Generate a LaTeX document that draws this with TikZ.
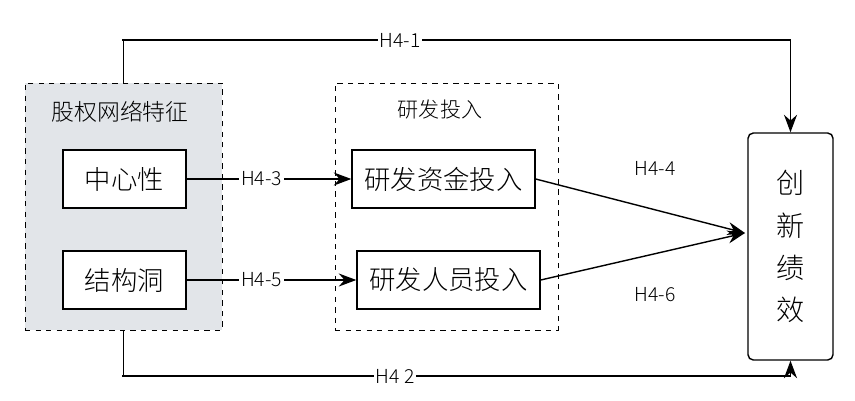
\documentclass[tikz,border=0pt]{standalone}
\usepackage{fontspec}
\setmainfont{Noto Sans CJK SC Light}
\usetikzlibrary{arrows.meta}
\tikzset{
	box/.style={draw, thick, minimum width=2.46cm, minimum height=1.16cm, font=\fontsize{15}{15}\selectfont},
	grp/.style={draw, dashed, minimum width=3.94cm, minimum height=4.94cm},
	lbl/.style={fill=white, inner sep=1pt, font=\fontsize{11}{11}\selectfont},
	arr/.style={-{Stealth[length=3.5mm,width=2.6mm]}, thick}
}
\begin{document}
\begin{tikzpicture}[x=0.02cm,y=-0.02cm]
	\useasboundingbox (0,0) rectangle (855,400);
	% groups
	\node[grp, fill={rgb,255:red,226;green,229;blue,233}] (equity) at (123.5,206.5) {};
	\node[grp, minimum width=4.46cm] (rd) at (446.5,206.5) {};
	\node[font=\fontsize{13}{13}\selectfont] at (120,112) {股权网络特征};
	\node[font=\fontsize{12}{12}\selectfont] at (440,110) {研发投入};
	% boxes
	\node[box, fill=white] (cen) at (124.5,179) {中心性};
	\node[box, fill=white] (hole) at (124.5,280) {结构洞};
	\node[box, minimum width=3.66cm] (fund) at (443.5,179) {研发资金投入};
	\node[box, minimum width=3.66cm] (staff) at (448.5,280) {研发人员投入};
	\node[box, rounded corners=3pt, minimum width=1.7cm, minimum height=4.54cm, align=center, font=\fontsize{16}{24}\selectfont] (perf) at (790.5,246.5) {创\\新\\绩\\效};
	\coordinate (join) at (745,233);
	% connectors
	\draw[arr] (equity.north) |- (122,40) -| (perf.north);
	\draw[arr] (equity.south) |- (122,376) -| (perf.south);
	\node[lbl] at (400,40) {H4-1};
	\node[lbl] at (395,376) {H4 2};
	\draw[arr] (cen) -- (fund) node[lbl, midway, xshift=-0.15cm] {H4-3};
	\draw[arr] (hole) -- (staff) node[lbl, midway, xshift=-0.2cm] {H4-5};
	\draw[arr] (fund.east) -- (join);
	\draw[arr] (staff.east) -- (join);
	\node[font=\fontsize{11}{11}\selectfont] at (655,168) {H4-4};
	\node[font=\fontsize{11}{11}\selectfont] at (655,295) {H4-6};
\end{tikzpicture}
\end{document}
